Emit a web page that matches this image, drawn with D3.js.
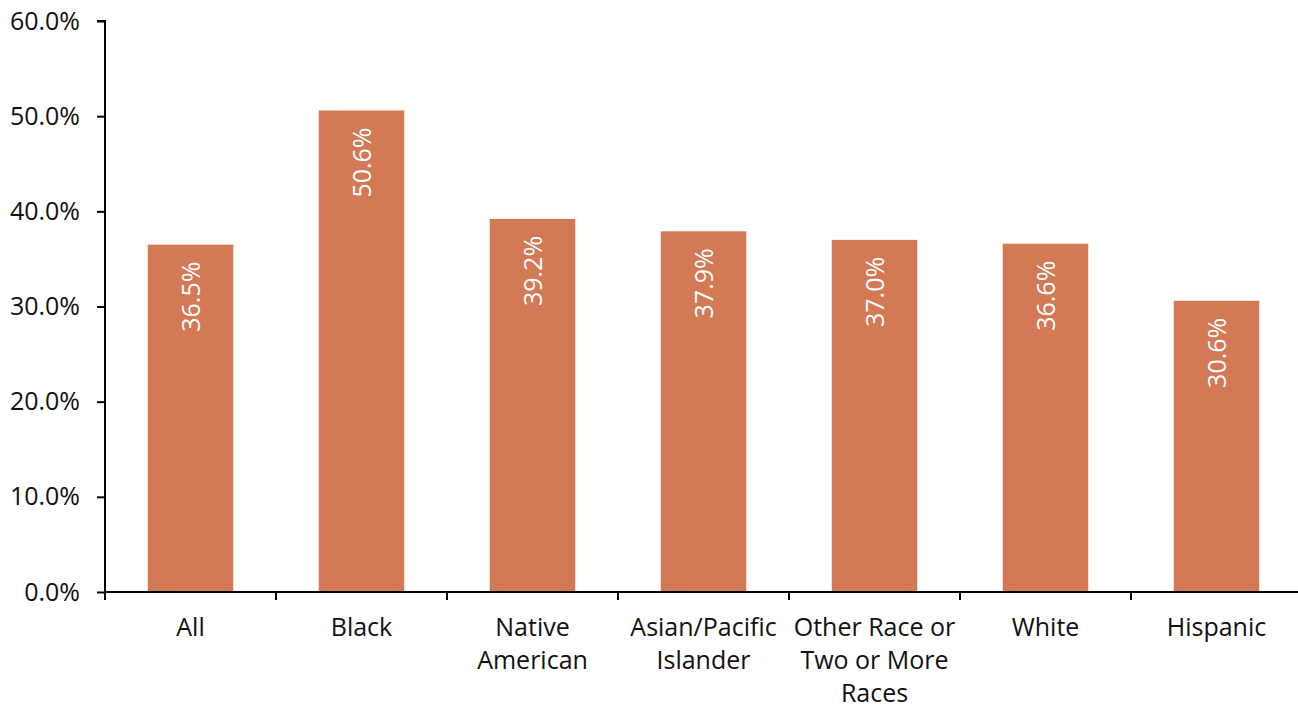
<!DOCTYPE html>
<html>
<head>
<meta charset="utf-8">
<script src="https://cdn.jsdelivr.net/npm/d3@7"></script>
<style>
  html, body { margin: 0; padding: 0; background: #fff; }
  svg { display: block; font-family: "Open Sans", "Noto Sans", sans-serif; }
</style>
</head>
<body>
<svg id="chart" width="1298" height="708"></svg>
<script>
// Share of each group, in percent
const categories = ["All", "Black", "Native American", "Asian/Pacific Islander",
  "Other Race or Two or More Races", "White", "Hispanic"];
const categoryLines = [["All"], ["Black"], ["Native", "American"], ["Asian/Pacific", "Islander"],
  ["Other Race or", "Two or More", "Races"], ["White"], ["Hispanic"]];
const values = [36.5, 50.6, 39.2, 37.9, 37.0, 36.6, 30.6];
const yTicks = [0, 10, 20, 30, 40, 50, 60];

const svg = d3.select("#chart");
const plotLeft = 105, plotRight = 1298, plotTop = 21, plotBottom = 592;
const step = 171;

const x = d3.scaleBand().domain(categories).range([plotLeft, plotLeft + step * categories.length])
  .paddingInner(0.5).paddingOuter(0.25);
const y = d3.scaleLinear().domain([0, 60]).range([plotBottom, plotTop]);

// Bars
svg.append("g").selectAll("rect").data(values).join("rect")
  .attr("x", (d, i) => x(categories[i]))
  .attr("y", d => y(d))
  .attr("width", x.bandwidth())
  .attr("height", d => y(0) - y(d))
  .attr("fill", "#d37955");

// Value labels, rotated, inside the top of each bar
svg.append("g").selectAll("text").data(values).join("text")
  .attr("transform", (d, i) => `translate(${x(categories[i]) + x.bandwidth() / 2 + 9},${y(d) + 17}) rotate(-90)`)
  .attr("text-anchor", "end")
  .attr("fill", "#fff")
  .attr("font-size", 25)
  .text(d => d.toFixed(1) + "%");

// Y axis
const yAxis = svg.append("g").attr("transform", `translate(${plotLeft},0)`)
  .call(d3.axisLeft(y).tickValues(yTicks).tickSize(8).tickPadding(17)
    .tickFormat(d => d.toFixed(1) + "%"));
yAxis.select(".domain").attr("stroke", "#000").attr("stroke-width", 2)
  .attr("d", `M-8,${plotTop}H0V${plotBottom}`);
yAxis.selectAll(".tick line").attr("stroke", "#000").attr("stroke-width", 2);
yAxis.selectAll(".tick text").attr("font-size", 25).attr("fill", "#111")
  .attr("font-family", "'Open Sans', 'Noto Sans', sans-serif");

// X axis: baseline with ticks at the category boundaries
const xg = svg.append("g");
xg.append("line")
  .attr("x1", plotLeft - 1).attr("x2", plotRight)
  .attr("y1", y(0)).attr("y2", y(0))
  .attr("stroke", "#000").attr("stroke-width", 2);
const bounds = categories.map(c => x(c) - x.step() * x.paddingInner() / 2);
bounds[0] = plotLeft;
xg.selectAll("line.tick").data(bounds).join("line")
  .attr("class", "tick")
  .attr("x1", d => d).attr("x2", d => d)
  .attr("y1", y(0)).attr("y2", y(0) + 8)
  .attr("stroke", "#000").attr("stroke-width", 2);

// Category labels, wrapped
const labels = xg.selectAll("text.cat").data(categoryLines).join("text")
  .attr("class", "cat")
  .attr("text-anchor", "middle")
  .attr("font-size", 25)
  .attr("fill", "#111")
  .attr("x", (d, i) => x(categories[i]) + x.bandwidth() / 2)
  .attr("y", 636);
labels.selectAll("tspan").data(d => d).join("tspan")
  .attr("x", function () { return d3.select(this.parentNode).attr("x"); })
  .attr("dy", (d, i) => i === 0 ? 0 : 33)
  .text(d => d);
</script>
</body>
</html>
